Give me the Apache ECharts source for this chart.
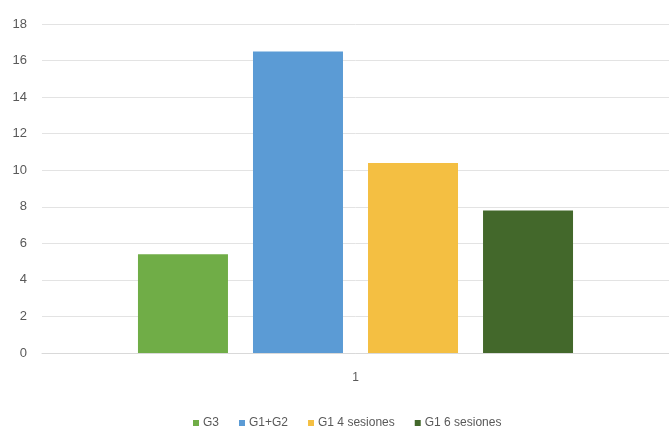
<!DOCTYPE html>
<html>
<head>
<meta charset="utf-8">
<script src="https://cdn.jsdelivr.net/npm/echarts@6/dist/echarts.min.js"></script>
<style>
  html, body { margin: 0; padding: 0; background: #ffffff; }
  #chart { width: 669px; height: 441px; }
</style>
</head>
<body>
<div id="chart"></div>
<script>
// Categories, series and values
const categories = ['1'];
const seriesNames = ['G3', 'G1+G2', 'G1 4 sesiones', 'G1 6 sesiones'];
const seriesValues = [[5.4], [16.5], [10.4], [7.8]];
const seriesColors = ['#70AD47', '#5B9BD5', '#F4BF42', '#43682B'];

const fontFamily = '"Liberation Sans", "Noto Sans", sans-serif';
const textColor = '#595959';

const chart = echarts.init(document.getElementById('chart'), null, { renderer: 'canvas' });

chart.setOption({
  animation: false,
  backgroundColor: '#ffffff',
  grid: { left: 42, right: 0, top: 24, bottom: 88, containLabel: false },
  legend: {
    top: 412,
    left: 188,
    itemWidth: 6,
    itemHeight: 6,
    itemGap: 20,
    icon: 'rect',
    textStyle: { color: textColor, fontSize: 12, fontFamily: fontFamily, padding: [0, 0, 0, -1] },
    data: seriesNames
  },
  xAxis: {
    type: 'category',
    data: categories,
    axisLine: { show: true, lineStyle: { color: '#D9D9D9', width: 1 } },
    axisTick: { show: false },
    axisLabel: { color: textColor, fontSize: 12, fontFamily: fontFamily, margin: 19 }
  },
  yAxis: {
    type: 'value',
    min: 0,
    max: 18,
    interval: 2,
    axisLine: { show: false },
    axisTick: { show: false },
    axisLabel: { color: textColor, fontSize: 13, fontFamily: fontFamily, margin: 15 },
    splitLine: { lineStyle: { color: '#E3E3E3', width: 1 } }
  },
  series: seriesNames.map((name, i) => ({
    name: name,
    type: 'bar',
    data: seriesValues[i],
    barWidth: 90,
    barGap: '27.8%',
    itemStyle: { color: seriesColors[i] }
  }))
});
</script>
</body>
</html>
